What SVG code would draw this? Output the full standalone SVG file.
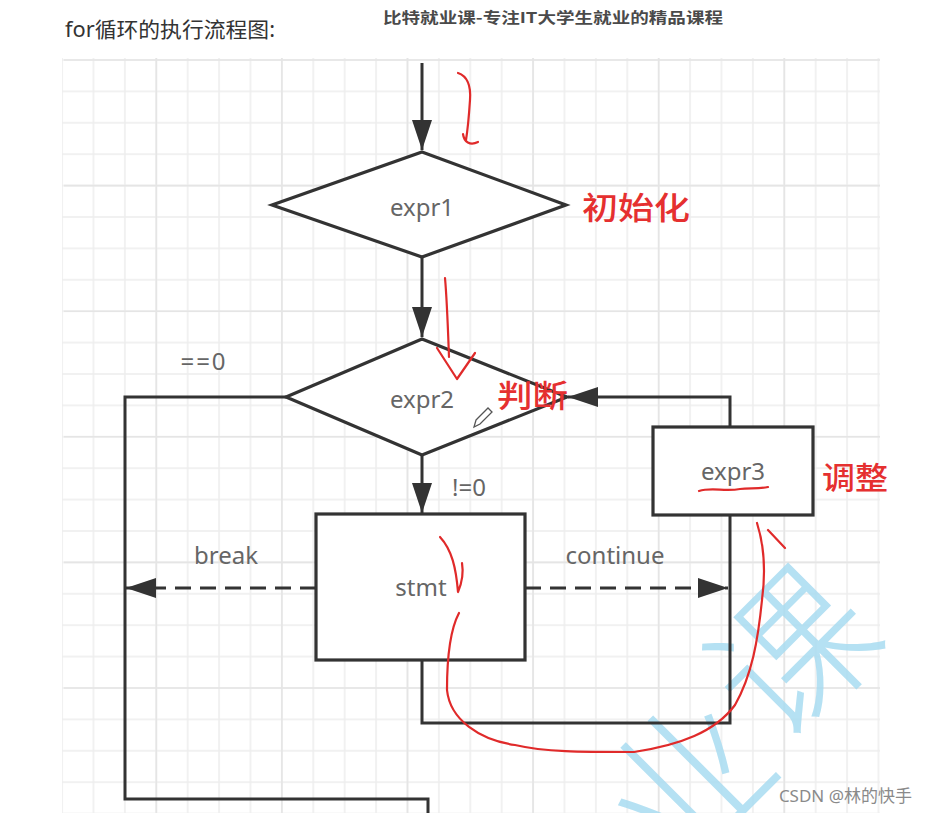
<svg xmlns="http://www.w3.org/2000/svg" width="928" height="813" viewBox="0 0 928 813">
<style>
.ln{fill:none;stroke:#333;stroke-width:3}
.shape{fill:#fff;stroke:#333;stroke-width:3.2}
.lbl{font-family:"Noto Sans","Noto Sans CJK SC",sans-serif;font-size:24px;fill:#666;text-anchor:middle}
.red{font-family:"Noto Sans CJK SC",sans-serif;font-size:31px;font-weight:500;fill:#e53030}
.ink{fill:none;stroke:#e02a2a;stroke-width:2.2;stroke-linecap:round;stroke-linejoin:round}
.wm{font-family:"Noto Sans CJK SC",sans-serif;font-weight:300;font-size:160px;fill:#a9dcf1;text-anchor:middle}
</style>
<defs>
<pattern id="grid" x="61.1" y="59" width="31.4" height="31.4" patternUnits="userSpaceOnUse">
<path d="M1,0V31.4M0,1H31.4" stroke="#ededed" stroke-width="1.5"/>
</pattern>
<marker id="ah" viewBox="0 0 30 20" refX="30" refY="10" markerWidth="30" markerHeight="20" markerUnits="userSpaceOnUse" orient="auto">
<path d="M0,0L30,10L0,20z" fill="#333"/>
</marker>
</defs>
<rect width="928" height="813" fill="#fff"/>
<rect x="62" y="58" width="818" height="755" fill="url(#grid)"/>
<g stroke="#e5e5e5" stroke-width="1.6">
<path d="M64,60H880M64,185.6H880M64,311.2H880M64,436.8H880M64,562.4H880M64,688H880"/>
<path d="M156.3,58V813M281.9,58V813M407.5,58V813M533.1,58V813M658.7,58V813M784.3,58V813"/>
</g>
<text x="65" y="37" font-family="'Noto Sans','Noto Sans CJK SC',sans-serif" font-size="21" fill="#333" textLength="210" lengthAdjust="spacingAndGlyphs">for循环的执行流程图:</text>
<text x="383" y="23" font-family="'Noto Sans CJK SC',serif" font-size="15" font-weight="600" fill="#4a4a4a" textLength="340" lengthAdjust="spacingAndGlyphs">比特就业课-专注IT大学生就业的精品课程</text>
<g id="watermark" opacity="0.85">
<text class="wm" x="0" y="56" transform="translate(795,655) rotate(-45)">课</text>
<text class="wm" x="0" y="56" transform="translate(690,785) rotate(-45)">业</text>
</g>
<g id="connectors">
<path class="ln" d="M422,63V150" marker-end="url(#ah)"/>
<path class="ln" d="M422,257V337" marker-end="url(#ah)"/>
<path class="ln" d="M422,455V513" marker-end="url(#ah)"/>
<path class="ln" d="M730,427V397H568" marker-end="url(#ah)"/>
<path class="ln" d="M286,397H125V799H428V813"/>
<path class="ln" d="M422,660V723H730V515"/>
<path class="ln" d="M316,588H126" stroke-dasharray="16 9" marker-end="url(#ah)"/>
<path class="ln" d="M525,588H728" stroke-dasharray="16 9" marker-end="url(#ah)"/>
</g>
<g id="expr1">
<path class="shape" d="M422,152L566,205L422,257L272,205z"/>
<text class="lbl" x="422" y="216">expr1</text>
</g>
<g id="expr2">
<path class="shape" d="M422,339L567,397L422,455L286,397z"/>
<text class="lbl" x="422" y="408">expr2</text>
</g>
<g id="expr3">
<rect class="shape" x="653" y="427" width="160" height="88"/>
<text class="lbl" x="733" y="480">expr3</text>
</g>
<g id="stmt">
<rect class="shape" x="316" y="514" width="209" height="146"/>
<text class="lbl" x="421" y="596">stmt</text>
</g>
<g id="labels">
<text class="lbl" x="204" y="370" letter-spacing="2">==0</text>
<text class="lbl" x="469" y="496">!=0</text>
<text class="lbl" x="226" y="564">break</text>
<text class="lbl" x="615" y="564">continue</text>
</g>
<g id="annotations">
<text class="red" x="582" y="219" textLength="108" lengthAdjust="spacingAndGlyphs">初始化</text>
<text class="red" x="497" y="407" textLength="71" lengthAdjust="spacingAndGlyphs">判断</text>
<text class="red" x="822" y="489" textLength="66" lengthAdjust="spacingAndGlyphs">调整</text>
<path class="ink" d="M458,73C467,76 471,86 470,100C469,115 468,128 466,140M463,134C464,142 470,146 478,142"/>
<path class="ink" d="M445,278C447,300 448,330 449,357M437,348L457,379L475,353"/>
<path class="ink" d="M699,491C712,487 725,492 740,489C750,488 760,489 768,487"/>
<path class="ink" d="M440,537C452,550 456,568 458,592M462,563C464,575 461,585 458,592"/>
<path class="ink" d="M459,613C450,630 447,660 447,690C450,720 480,740 515,745C545,752 580,752 634,752C680,745 715,732 735,705C752,675 758,640 762,600C766,570 764,545 757,523M768,530L785,548"/>
<path d="M476,420L488,408L492,412L480,424L474,427z" fill="#fff" stroke="#555" stroke-width="1.3"/>
</g>
<text x="912" y="802" text-anchor="end" font-family="'Noto Sans','Noto Sans CJK SC',sans-serif" font-size="17" fill="#8a8a8a">CSDN @林的快手</text>
</svg>
